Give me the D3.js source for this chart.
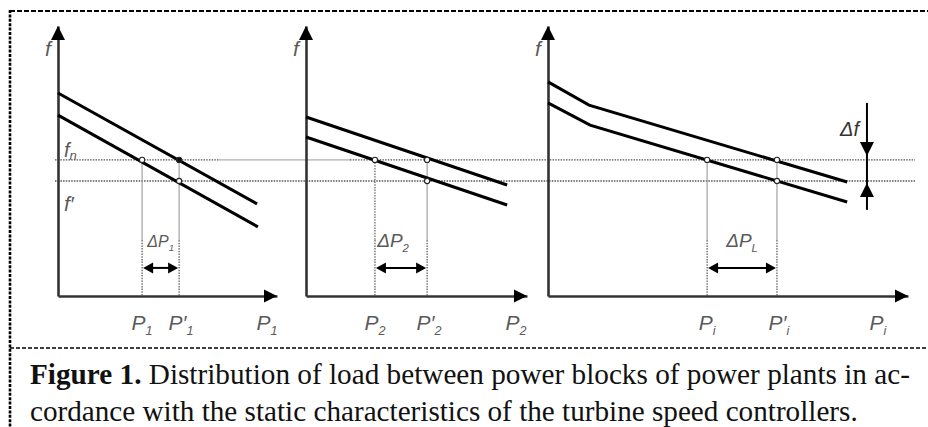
<!DOCTYPE html>
<html>
<head>
<meta charset="utf-8">
<script src="https://cdn.jsdelivr.net/npm/d3@7"></script>
<style>
  body { margin: 0; background: #fff; }
  svg { display: block; }
  .lbl { font-family: 'Liberation Sans', Arial, sans-serif; font-style: italic; fill: #5a5a5a; }
  .cap { font-family: 'Liberation Serif', 'Times New Roman', serif; fill: #111; }
</style>
</head>
<body>
<div id="chart"></div>
<script>
// frequency levels, shared by the three panels
var fNominal = 50.4;   // f_n
var fNew = 42.6;       // f'

// label subscripts per panel
var pSubs = ["1", "2", "i"];
var deltaSubs = ["1", "2", "L"];

// static characteristics of the controllers, [P, f] per panel
var upperLines = [
  [[0, 75.2], [90.9, 34.1]],
  [[0, 66.3], [91, 41.1]],
  [[0, 79.3], [11.4, 70.7], [83.1, 42.2]]
];
var lowerLines = [
  [[0, 67.0], [91.3, 25.6]],
  [[0, 58.9], [91, 33.7]],
  [[0, 71.5], [11.7, 63.3], [83.1, 34.8]]
];

// load before and after the change
var pBefore = [38.4, 31.2, 44.2];
var pAfter = [55.3, 54.8, 63.6];

var captionLines = [
  ["Figure 1.", " Distribution of load between power blocks of power plants in ac-"],
  ["", "cordance with the static characteristics of the turbine speed controllers."]
];

// ---- layout ----
var width = 928;
var height = 427;
var axisStart = [58, 306, 548];
var axisEnd = [277, 527, 908];
var endLabelShift = [10, 11, 30];
var arrowLevel = 10.4;   // f where the ΔP arrows sit
var deltaLabelLevel = 18;
var dfPos = 88.6, dfTop = 71.5, dfBottom = 31.9;

var svg = d3.select("#chart")
  .append("svg")
  .attr("width", width)
  .attr("height", height);

var y = d3.scaleLinear()
  .domain([0, 100])
  .range([296, 26]);

// frame
svg.append("line")
  .attr("x1", 10).attr("x2", width).attr("y1", 11).attr("y2", 11)
  .attr("stroke", "#000").attr("stroke-width", 2)
  .attr("stroke-dasharray", "5,2");
svg.append("line")
  .attr("x1", 10).attr("x2", 10).attr("y1", 10).attr("y2", height)
  .attr("stroke", "#000").attr("stroke-width", 2.6)
  .attr("stroke-dasharray", "3,1.4");
svg.append("line")
  .attr("x1", 10).attr("x2", width).attr("y1", 348).attr("y2", 348)
  .attr("stroke", "#000").attr("stroke-width", 1.5)
  .attr("stroke-dasharray", "4,2");

// f_n and f' reference lines across all panels
svg.append("line")
  .attr("x1", 55).attr("x2", 218).attr("y1", y(fNominal)).attr("y2", y(fNominal))
  .attr("stroke", "#555").attr("stroke-width", 1.3).attr("stroke-dasharray", "1.5,1.2");
svg.append("line")
  .attr("x1", 218).attr("x2", 350).attr("y1", y(fNominal)).attr("y2", y(fNominal))
  .attr("stroke", "#999").attr("stroke-width", 1);
svg.append("line")
  .attr("x1", 350).attr("x2", 915).attr("y1", y(fNominal)).attr("y2", y(fNominal))
  .attr("stroke", "#555").attr("stroke-width", 1.3).attr("stroke-dasharray", "1.5,1.2");
svg.append("line")
  .attr("x1", 55).attr("x2", 915).attr("y1", y(fNew)).attr("y2", y(fNew))
  .attr("stroke", "#555").attr("stroke-width", 1.3).attr("stroke-dasharray", "1.5,1.2");

function subLabel(sel, x, yy, main, sub, size) {
  var t = sel.append("text")
    .attr("class", "lbl")
    .attr("x", x)
    .attr("y", yy)
    .attr("text-anchor", "middle")
    .style("font-size", size + "px")
    .text(main);
  t.append("tspan")
    .attr("dy", size * 0.22)
    .style("font-size", (size * 0.6) + "px")
    .text(sub);
  return t;
}

function arrowHead(sel, tipX, tipY, dir, len, half) {
  // dir: "up", "down", "left", "right"
  var pts;
  if (dir == "up") pts = [[tipX, tipY], [tipX - half, tipY + len], [tipX + half, tipY + len]];
  if (dir == "down") pts = [[tipX, tipY], [tipX - half, tipY - len], [tipX + half, tipY - len]];
  if (dir == "left") pts = [[tipX, tipY], [tipX + len, tipY - half], [tipX + len, tipY + half]];
  if (dir == "right") pts = [[tipX, tipY], [tipX - len, tipY - half], [tipX - len, tipY + half]];
  sel.append("polygon")
    .attr("points", pts.map(function(p) { return p.join(","); }).join(" "))
    .attr("fill", "#000");
}

var line = d3.line();

for (var i = 0; i < 3; i++) {
  var x = d3.scaleLinear()
    .domain([0, 100])
    .range([axisStart[i], axisEnd[i]]);
  line.x(function(d) { return x(d[0]); }).y(function(d) { return y(d[1]); });

  var g = svg.append("g");

  // axes, no ticks
  g.append("g")
    .attr("transform", "translate(0," + y(0) + ")")
    .call(d3.axisBottom(x).tickValues([]).tickSizeOuter(0))
    .select(".domain").attr("stroke", "#333").attr("stroke-width", 2.6);
  g.append("g")
    .attr("transform", "translate(" + x(0) + ",0)")
    .call(d3.axisLeft(y).tickValues([]).tickSizeOuter(0))
    .select(".domain").attr("stroke", "#333").attr("stroke-width", 2.6);
  arrowHead(g, x(100), y(0), "right", 13, 6.5);
  arrowHead(g, x(0), y(100), "up", 14, 7);

  // axis name f
  g.append("text")
    .attr("class", "lbl")
    .attr("x", x(0) - 10)
    .attr("y", 56)
    .attr("text-anchor", "middle")
    .style("font-size", "21px")
    .text("f");

  // vertical guides
  [pBefore[i], pAfter[i]].forEach(function(p) {
    g.append("line")
      .attr("x1", x(p)).attr("x2", x(p))
      .attr("y1", y(fNominal)).attr("y2", 240)
      .attr("stroke", i == 1 && p == pBefore[i] ? "#555" : "#999")
      .attr("stroke-width", 1.1)
      .attr("stroke-dasharray", i == 1 && p == pBefore[i] ? "1.5,1.2" : null);
    g.append("line")
      .attr("x1", x(p)).attr("x2", x(p))
      .attr("y1", 240).attr("y2", y(0))
      .attr("stroke", "#555").attr("stroke-width", 1.2)
      .attr("stroke-dasharray", "1.5,1.2");
  });

  // characteristics
  g.append("path")
    .datum(upperLines[i])
    .attr("d", line)
    .attr("fill", "none").attr("stroke", "#000").attr("stroke-width", 3);
  g.append("path")
    .datum(lowerLines[i])
    .attr("d", line)
    .attr("fill", "none").attr("stroke", "#000").attr("stroke-width", 3);

  // operating points
  var pts = [[pBefore[i], fNominal, false], [pAfter[i], fNominal, i == 0], [pAfter[i], fNew, false]];
  g.selectAll("circle")
    .data(pts)
    .enter()
    .append("circle")
    .attr("cx", function(d) { return x(d[0]); })
    .attr("cy", function(d) { return y(d[1]); })
    .attr("r", 2.6)
    .attr("fill", function(d) { return d[2] ? "#111" : "#fff"; })
    .attr("stroke", "#222")
    .attr("stroke-width", 1.1);

  // ΔP double arrow
  var ay = y(arrowLevel);
  g.append("line")
    .attr("x1", x(pBefore[i]) + 6).attr("x2", x(pAfter[i]) - 6)
    .attr("y1", ay).attr("y2", ay)
    .attr("stroke", "#000").attr("stroke-width", 2);
  arrowHead(g, x(pBefore[i]) + 1, ay, "left", 10, 5.5);
  arrowHead(g, x(pAfter[i]) - 1, ay, "right", 10, 5.5);
  subLabel(g, (x(pBefore[i]) + x(pAfter[i])) / 2 - (i == 1 ? 8 : 0), y(deltaLabelLevel),
    "\u0394P", deltaSubs[i], i == 0 ? 16 : 19);

  // P labels under the axis
  subLabel(g, x(pBefore[i]), 330, "P", pSubs[i], 21);
  subLabel(g, x(pAfter[i]) + 2, 330, "P\u2032", pSubs[i], 21);
  subLabel(g, x(100) - endLabelShift[i], 330, "P", pSubs[i], 21);

  if (i == 0) {
    g.append("text").attr("class", "lbl")
      .attr("x", 64).attr("y", y(fNominal) - 3)
      .style("font-size", "20px")
      .text("f")
      .append("tspan").attr("dy", 3).style("font-size", "13px").text("n");
    g.append("text").attr("class", "lbl")
      .attr("x", 64).attr("y", y(fNew) + 30)
      .style("font-size", "21px")
      .text("f\u2032");
  }

  if (i == 2) {
    var dx = x(dfPos);
    g.append("line")
      .attr("x1", dx).attr("x2", dx)
      .attr("y1", y(dfTop)).attr("y2", y(dfBottom))
      .attr("stroke", "#000").attr("stroke-width", 2);
    arrowHead(g, dx, y(fNominal) - 4, "down", 14, 7);
    arrowHead(g, dx, y(fNew) + 2, "up", 14, 7);
    g.append("text").attr("class", "lbl")
      .attr("x", dx - 8).attr("y", 136)
      .attr("text-anchor", "end")
      .style("font-size", "20px")
      .style("fill", "#333")
      .text("\u0394f");
  }
}

// caption
var captionBase = [384, 421];
var captionWidth = [880, 828];
captionLines.forEach(function(parts, k) {
  var t = svg.append("text")
    .attr("class", "cap")
    .attr("x", 0)
    .attr("y", 0)
    .style("font-size", "29px");
  if (parts[0]) t.append("tspan").style("font-weight", "bold").text(parts[0]);
  t.append("tspan").text(parts[1]);
  var w = t.node().getComputedTextLength();
  t.attr("transform", "translate(30," + captionBase[k] + ") scale(" + (captionWidth[k] / w) + ",1)");
});
</script>
</body>
</html>
